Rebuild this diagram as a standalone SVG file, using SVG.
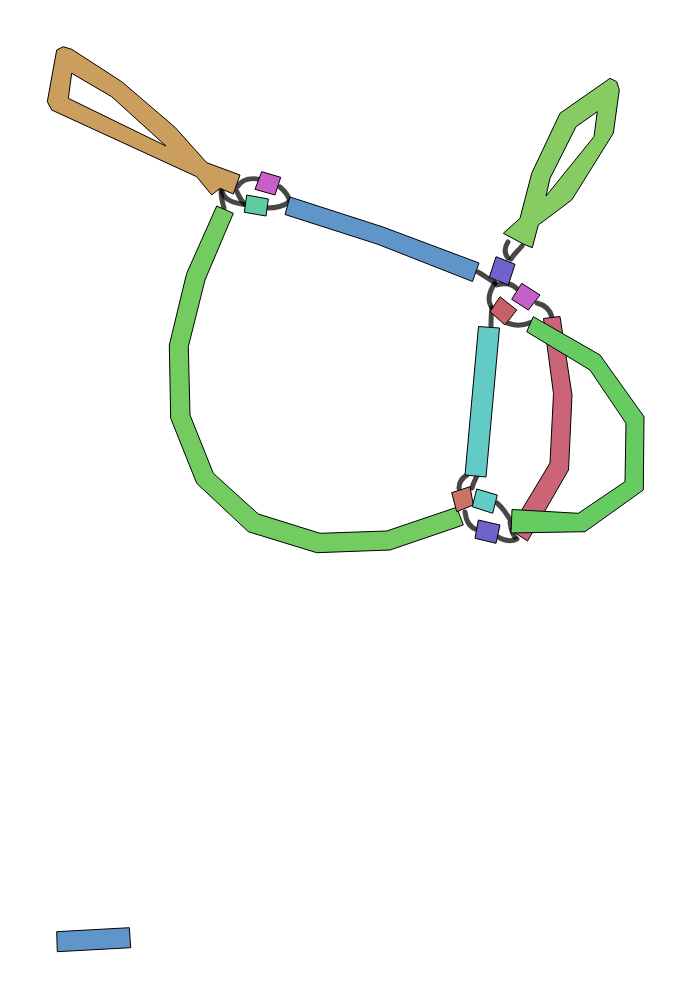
<svg xmlns="http://www.w3.org/2000/svg" width="694" height="1000" viewBox="0 0 694 1000">
<style>
.n{stroke:#000;stroke-width:1;stroke-linejoin:round}
.e{fill:none;stroke:#000;stroke-opacity:0.72;stroke-width:5;stroke-linecap:round}
</style>
<rect width="694" height="1000" fill="#fff"/>
<g id="connectors">
<path class="e" d="M238,186 C243,179 252,177 262,180"/>
<path class="e" d="M222,191 C224,200 233,203 247,205"/>
<path class="e" d="M236,190 C240,197 241,203 247,205"/>
<path class="e" d="M224,208 C222,201 221,196 221,191"/>
<path class="e" d="M280,187 C286,192 289,197 290,202"/>
<path class="e" d="M267,208 C277,208 284,206 289,202"/>
<path class="e" d="M508,242 C504,248 504,253 508,258"/>
<path class="e" d="M522,246 C517,252 514,254 511,259"/>
<path class="e" d="M478,272 C485,276 490,280 495,283"/>
<path class="e" d="M495,283 C489,292 487,301 492,308"/>
<path class="e" d="M497,285 C506,282 513,284 518,290"/>
<path class="e" d="M492,308 C491,315 491,320 491,326"/>
<path class="e" d="M505,322 C513,326 523,326 532,322"/>
<path class="e" d="M537,303 C545,305 550,310 552,317"/>
<path class="e" d="M467,475 C462,478 459,482 459,488"/>
<path class="e" d="M477,476 C475,480 473,483 472,488"/>
<path class="e" d="M465,512 C466,521 470,528 478,530"/>
<path class="e" d="M497,503 C503,508 506,513 509,518"/>
<path class="e" d="M498,537 C505,541 511,542 517,539"/>
<path class="e" d="M510,522 C511,530 512,534 515,537"/>
</g>
<g id="node-brown"><path class="n" fill="#CB9E5D" fill-rule="evenodd" d="M240,175 L206.7,162.7 L175,127.3 L121.7,81.7 L71.7,49.3 L63.3,46.7 L56.7,50 L47.3,101.7 L51.7,110 L196.7,176.7 L211.7,195 L220,188.3 L233.3,194 Z M71.7,73.3 L111.7,96.7 L166,146 L68.3,98.3 Z"/></g>
<g id="node-green-left"><path class="n" fill="#72CC60" d="M216.7,206 L186.7,273.3 L169.3,345 L170.7,418.3 L196.7,483.3 L248.3,531.7 L316.7,552.7 L390,550 L463.3,525 L456.7,507.3 L386.7,531 L320,533.3 L258.3,514 L213.3,473.3 L190,415 L188.3,346.7 L205,280 L233.3,213.3 Z"/></g>
<g id="node-magenta-1"><path class="n" fill="#C75FC9" d="M261.7,171.7 L280.7,177.3 L275,195 L255,189.3 Z"/></g>
<g id="node-teal-1"><path class="n" fill="#5ECC9E" d="M246.7,195 L268.3,199 L266,216 L244.3,212.3 Z"/></g>
<g id="node-blue-long"><path class="n" fill="#6095C9" d="M290,197 L383,227 L479,263 L472.5,281.5 L377,244 L285,214.5 Z"/></g>
<g id="node-green-topright"><path class="n" fill="#86CC63" fill-rule="evenodd" d="M503.3,233.3 L520,218.3 L531.7,173.3 L560,113.3 L610,78.3 L616.7,81.7 L619.3,90 L613.3,133.3 L571.7,200 L538.3,225 L532.3,247.7 L523.3,244 Z M597.3,111.7 L576,126.7 L550,178.3 L546,196 L594,136.7 Z"/></g>
<g id="node-purple-1"><path class="n" fill="#6F62C9" d="M496,256.7 L515,264.3 L508.3,285 L489.3,277.3 Z"/></g>
<g id="node-magenta-2"><path class="n" fill="#C75FC9" d="M521.7,283.3 L540,295 L528.3,310 L511.7,299.3 Z"/></g>
<g id="node-red-1"><path class="n" fill="#C95F66" d="M500,296.7 L516.7,310 L505,325 L490,311.7 Z"/></g>
<g id="node-cyan-long"><path class="n" fill="#63CBC5" d="M478.5,326.5 L499.5,328 L486,477 L465,475 Z"/></g>
<g id="node-pink-long"><path class="n" fill="#CC6478" d="M543.5,318.5 L560,316.5 L572,395 L568.5,470 L527.5,541 L510,529.5 L550,463 L553.5,393.5 Z"/></g>
<g id="node-green-right"><path class="n" fill="#66CC62" d="M533.3,316.7 L600,355 L644,416.7 L643.3,490 L585,531.7 L511,533 L512,509.5 L578.3,513.3 L625,481.7 L626,423.3 L590,370 L526.7,331.7 Z"/></g>
<g id="node-redbrown"><path class="n" fill="#C97462" d="M451.7,492.7 L470,486.7 L473.3,505 L456.7,511.7 Z"/></g>
<g id="node-cyan-2"><path class="n" fill="#63CBC5" d="M476.7,489 L497.3,495 L492.7,513.3 L472.3,506.7 Z"/></g>
<g id="node-purple-2"><path class="n" fill="#6F62C9" d="M478.3,520 L500,525 L496,543.3 L475,538.3 Z"/></g>
<g id="node-blue-small"><path class="n" fill="#6095C9" d="M56.7,931.7 L129.3,927.7 L130.7,947.7 L57.3,951.7 Z"/></g>
</svg>
